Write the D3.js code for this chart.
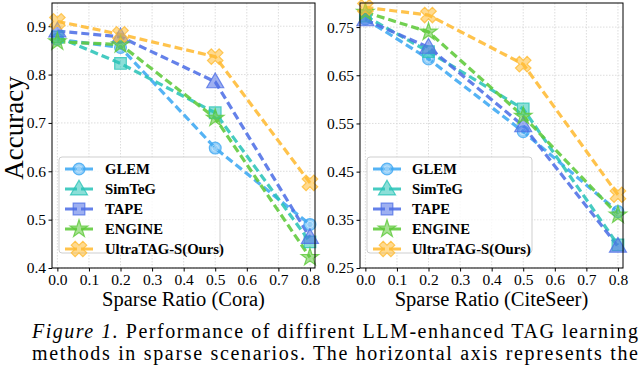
<!DOCTYPE html>
<html>
<head>
<meta charset="utf-8">
<script src="https://cdn.jsdelivr.net/npm/d3@7"></script>
<style>
	body { margin: 0; background: #fff; }
	text { font-family: "Liberation Serif", "Times New Roman", serif; }
</style>
</head>
<body>
<script>
var ratios = [0.0, 0.2, 0.5, 0.8];
var xTicks = [0.0, 0.1, 0.2, 0.3, 0.4, 0.5, 0.6, 0.7, 0.8];
var methods = ["GLEM", "SimTeG", "TAPE", "ENGINE", "UltraTAG-S(Ours)"];

// Cora
var coraGLEM = [0.873, 0.856, 0.648, 0.490];
var coraSimTeG = [0.878, 0.823, 0.721, 0.454];
var coraTAPE = [0.890, 0.878, 0.785, 0.463];
var coraENGINE = [0.868, 0.862, 0.710, 0.422];
var coraUltra = [0.910, 0.883, 0.837, 0.576];
var coraTicks = [0.4, 0.5, 0.6, 0.7, 0.8, 0.9];

// CiteSeer
var citeGLEM = [0.767, 0.684, 0.533, 0.367];
var citeSimTeG = [0.773, 0.699, 0.580, 0.298];
var citeTAPE = [0.765, 0.708, 0.545, 0.295];
var citeENGINE = [0.781, 0.740, 0.565, 0.360];
var citeUltra = [0.791, 0.775, 0.673, 0.402];
var citeTicks = [0.25, 0.35, 0.45, 0.55, 0.65, 0.75];

var colors = ["#3ea8f2", "#2cc4b8", "#4f6fe6", "#5ec93a", "#ffbb33"];
var plotMarks = ["circle", "square", "triangle", "star", "x"];
var legendMarks = ["circle", "triangle", "square", "star", "x"];

var width = 640, height = 374;
var svg = d3.select("body").append("svg")
	.attr("width", width)
	.attr("height", height);

function symbolPath(kind) {
	if (kind == "circle") return d3.symbol(d3.symbolCircle, 110)();
	if (kind == "square") return d3.symbol(d3.symbolSquare, 135)();
	if (kind == "triangle") return d3.symbol(d3.symbolTriangle, 125)();
	if (kind == "star") return d3.symbol(d3.symbolStar, 95)();
	return d3.symbol(d3.symbolCross, 150)();
}

function drawMarker(g, kind, color, cx, cy) {
	g.append("path")
		.attr("d", symbolPath(kind))
		.attr("transform", "translate(" + cx + "," + cy + ")" + (kind == "x" ? "rotate(45)" : "") + (kind == "triangle" ? "translate(0,1)" : ""))
		.style("fill", color)
		.style("fill-opacity", 0.55)
		.style("stroke", color)
		.style("stroke-opacity", 0.8)
		.style("stroke-width", 1.2);
	if (kind == "circle") {
		g.append("circle")
			.attr("cx", cx).attr("cy", cy).attr("r", 3.2)
			.style("fill", "none")
			.style("stroke", "#fff").style("stroke-opacity", 0.5)
			.style("stroke-width", 0.8);
	}
}

function panel(opt) {
	var x = d3.scaleLinear().domain([-0.017, 0.816]).range([opt.left, opt.right]);
	var y = d3.scaleLinear().domain(opt.yDomain).range([opt.bottom, opt.top]);
	var g = svg.append("g");

	// grid
	g.selectAll(".vg").data(xTicks).enter().append("line")
		.attr("x1", function (d) { return x(d); })
		.attr("x2", function (d) { return x(d); })
		.attr("y1", opt.top).attr("y2", opt.bottom)
		.style("stroke", "#d4d4d4").style("stroke-width", 0.8)
		.style("stroke-dasharray", "1.5,1.5");
	g.selectAll(".hg").data(opt.yTicks).enter().append("line")
		.attr("y1", function (d) { return y(d); })
		.attr("y2", function (d) { return y(d); })
		.attr("x1", opt.left).attr("x2", opt.right)
		.style("stroke", "#d4d4d4").style("stroke-width", 0.8)
		.style("stroke-dasharray", "1.5,1.5");

	// axes
	var xAxis = g.append("g")
		.attr("transform", "translate(0," + opt.bottom + ")")
		.call(d3.axisBottom(x).tickValues(xTicks).tickFormat(d3.format(".1f")).tickSize(3.5).tickPadding(2.5));
	var yAxis = g.append("g")
		.attr("transform", "translate(" + opt.left + ",0)")
		.call(d3.axisLeft(y).tickValues(opt.yTicks).tickFormat(d3.format(opt.yFormat)).tickSize(3.5).tickPadding(2.5));
	[xAxis, yAxis].forEach(function (a) {
		a.select(".domain").remove();
		a.selectAll("text").style("font-family", "Liberation Serif, serif").style("font-size", "15.5px").attr("fill", "#000");
		a.selectAll("line").style("stroke", "#000");
	});

	// series
	var line = d3.line()
		.x(function (d, i) { return x(ratios[i]); })
		.y(function (d) { return y(d); });
	opt.series.forEach(function (vals, k) {
		g.append("path")
			.datum(vals)
			.attr("d", line)
			.style("fill", "none")
			.style("stroke", colors[k])
			.style("stroke-width", 3.2)
			.style("stroke-opacity", 0.88)
			.style("stroke-dasharray", "8,4");
	});
	opt.series.forEach(function (vals, k) {
		vals.forEach(function (v, i) {
			drawMarker(g, plotMarks[k], colors[k], x(ratios[i]), y(v));
		});
	});

	// frame
	g.append("rect")
		.attr("x", opt.left).attr("y", opt.top)
		.attr("width", opt.right - opt.left).attr("height", opt.bottom - opt.top)
		.style("fill", "none").style("stroke", "#000").style("stroke-width", 1);

	// legend
	var lg = g.append("g").attr("transform", "translate(" + opt.legendX + "," + opt.legendY + ")");
	lg.append("rect")
		.attr("width", opt.legendW).attr("height", 96)
		.attr("rx", 3)
		.style("fill", "#fff").style("fill-opacity", 0.8)
		.style("stroke", "#cfcfcf").style("stroke-width", 1);
	methods.forEach(function (m, k) {
		var yy = 12 + k * 20;
		lg.append("line")
			.attr("x1", 6).attr("x2", 38)
			.attr("y1", yy).attr("y2", yy)
			.style("stroke", colors[k]).style("stroke-width", 3.2)
			.style("stroke-opacity", 0.88)
			.style("stroke-dasharray", "12,4,12,4");
		drawMarker(lg, legendMarks[k], colors[k], 20, yy);
		lg.append("text")
			.attr("x", opt.legendTextX).attr("y", yy)
			.attr("dy", "0.35em")
			.style("font-size", "14.7px")
			.style("font-weight", "bold")
			.text(m);
	});

	// x label
	svg.append("text")
		.attr("x", (opt.left + opt.right) / 2)
		.attr("y", 306)
		.attr("text-anchor", "middle")
		.style("font-size", "20.5px")
		.text(opt.xLabel);
}

panel({
	left: 52, right: 315, top: 3, bottom: 268,
	yDomain: [0.4, 0.948], yTicks: coraTicks, yFormat: ".1f",
	series: [coraGLEM, coraSimTeG, coraTAPE, coraENGINE, coraUltra],
	legendX: 59, legendY: 157, legendW: 161, legendTextX: 46,
	xLabel: "Sparse Ratio (Cora)"
});

panel({
	left: 360, right: 623, top: 3, bottom: 268,
	yDomain: [0.25, 0.80], yTicks: citeTicks, yFormat: ".2f",
	series: [citeGLEM, citeSimTeG, citeTAPE, citeENGINE, citeUltra],
	legendX: 367, legendY: 157, legendW: 165, legendTextX: 45,
	xLabel: "Sparse Ratio (CiteSeer)"
});

// y label
svg.append("text")
	.attr("transform", "translate(23,128)rotate(-90)")
	.attr("text-anchor", "middle")
	.style("font-size", "27px")
	.text("Accuracy");

// caption
var cap1 = svg.append("text")
	.attr("x", 32).attr("y", 338)
	.style("font-size", "20px")
	.attr("textLength", 606)
	.attr("lengthAdjust", "spacing");
cap1.append("tspan").style("font-style", "italic").text("Figure 1.");
cap1.append("tspan").text(" Performance of diffirent LLM-enhanced TAG learning");

svg.append("text")
	.attr("x", 32).attr("y", 360)
	.style("font-size", "20px")
	.attr("textLength", 606)
	.attr("lengthAdjust", "spacing")
	.text("methods in sparse scenarios.  The horizontal axis represents the");
</script>
</body>
</html>
